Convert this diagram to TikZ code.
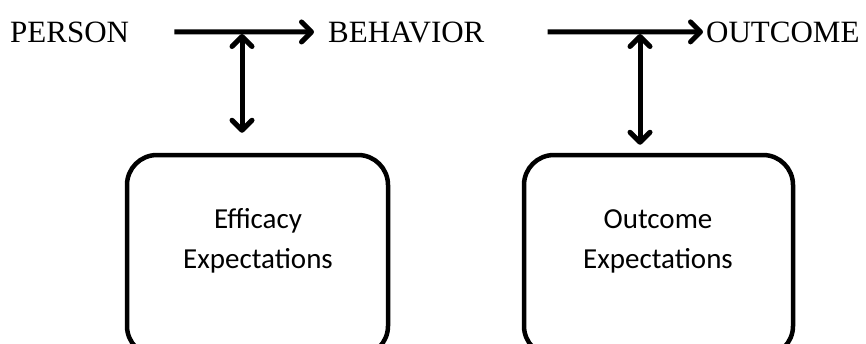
\documentclass[tikz,border=0pt]{standalone}
\usepackage{fontspec}
\setmainfont{Liberation Serif}
\newfontfamily\boxfont{Carlito}
\usetikzlibrary{arrows.meta}
\tikzset{
  tip/.tip={Straight Barb[length=10pt,width=20pt,line width=5pt,round]},
  word/.style={inner sep=0pt, anchor=base west, font=\fontsize{31}{31}\selectfont},
  conn/.style={line width=5pt, -tip},
  dconn/.style={line width=5pt, tip-tip},
  ebox/.style={draw, line width=4.5pt, rounded corners=30pt, inner sep=0pt},
  btext/.style={inner sep=0pt, align=center, font=\boxfont\fontsize{29}{40}\selectfont, anchor=base}
}
\begin{document}
\begin{tikzpicture}[x=1pt,y=-1pt]
\useasboundingbox (0,0) rectangle (866,343);
\clip (0,0) rectangle (866,343);
\node[word] (person) at (10,42) {PERSON};
\node[word] (behavior) at (328,42) {BEHAVIOR};
\node[word] (outcome) at (706,42) {OUTCOME};
\draw[conn, shorten <=45pt, shorten >=14pt] (person.east) -- (behavior.west);
\draw[conn, shorten <=63pt, shorten >=3pt] (behavior.east) -- (outcome.west);
\coordinate (j1) at (242,34);
\coordinate (j2) at (640,34);
\node[ebox, minimum width=261pt, minimum height=201pt] (box1) at (257.5,255.5) {};
\node[ebox, minimum width=269pt, minimum height=201pt] (box2) at (658.5,255.5) {};
\draw[dconn, shorten >=20pt] (j1) -- (j1 |- box1.north);
\draw[dconn, shorten >=8pt] (j2) -- (j2 |- box2.north);
\node[btext] (t1) at (258,268) {Efficacy\\Expectations};
\node[btext] (t2) at (658,268) {Outcome\\Expectations};
\end{tikzpicture}
\end{document}
